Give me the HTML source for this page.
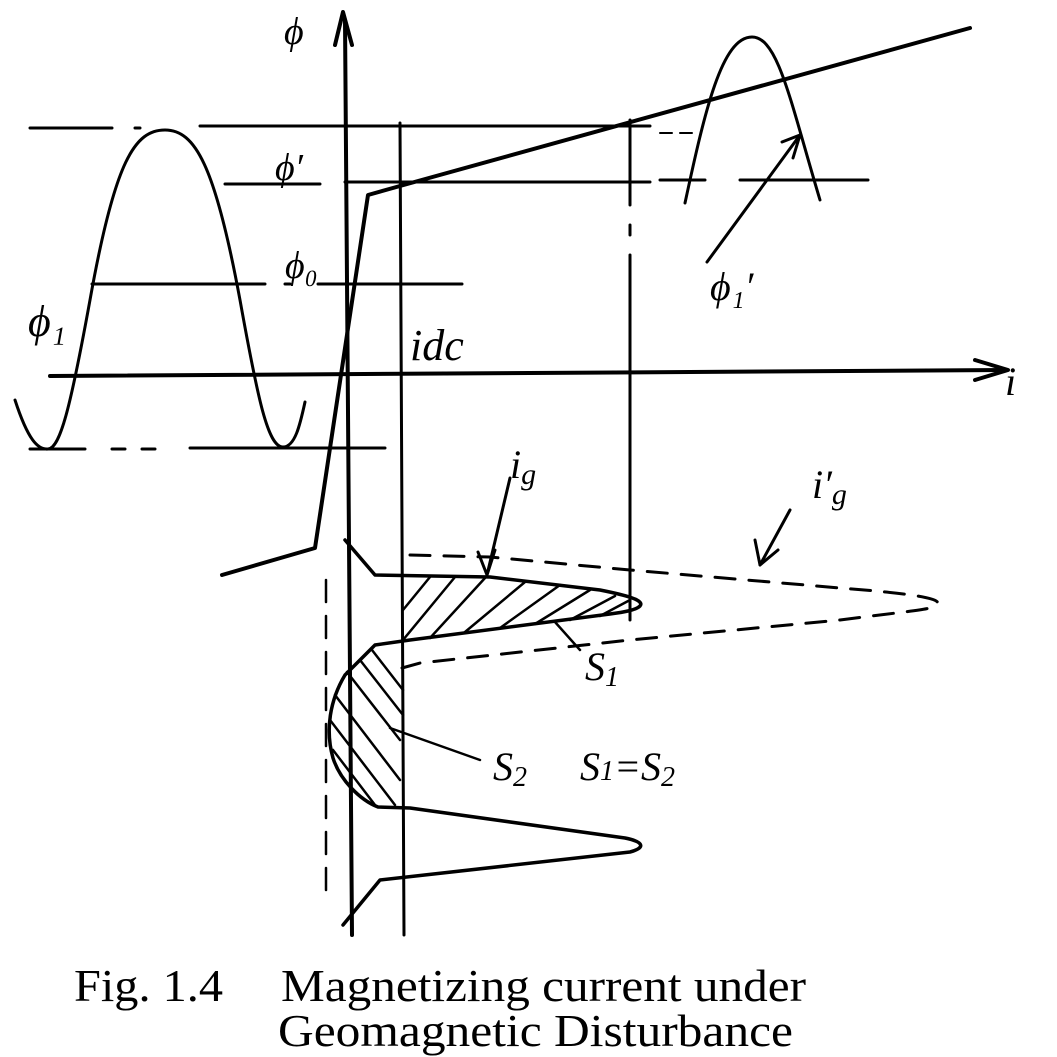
<!DOCTYPE html>
<html><head><meta charset="utf-8"><style>
html,body{margin:0;padding:0;background:#fff;}
svg{display:block;}
.h{font-family:"Liberation Serif",serif;font-style:italic;fill:#000;}
.c{font-family:"Liberation Serif",serif;fill:#000;font-size:46px;}
</style></head><body>
<svg width="1057" height="1057" viewBox="0 0 1057 1057" xmlns="http://www.w3.org/2000/svg">
<g stroke="#000" fill="none" stroke-linecap="round" stroke-linejoin="round">
<line x1="345" y1="20" x2="352" y2="935" stroke-width="4"/>
<path d="M335 45 L343 12 L352 45" stroke-width="4"/>
<line x1="50" y1="376" x2="1005" y2="370" stroke-width="4"/>
<path d="M975 360 L1008 370 L975 380" stroke-width="4"/>
<path d="M30 128 H112 M135 128 H140 M200 126 H650" stroke-width="3"/>
<path d="M225 184 H320 M312 184 H318 M345 182 H650 M660 180 H705 M740 180 H868" stroke-width="3"/>
<path d="M660 133 H700" stroke-width="2" stroke-dasharray="12 8"/>
<path d="M92 284 H265 M285 284 H290 M318 284 H462" stroke-width="3"/>
<path d="M30 449 H85 M112 449 H125 M142 449 H155 M190 448 H385" stroke-width="3"/>
<line x1="400" y1="123" x2="404" y2="935" stroke-width="3"/>
<path d="M630 120 V205 M630 225 V235 M630 255 V620" stroke-width="3"/>
<path d="M326 580 V900" stroke-width="2.5" stroke-dasharray="22 14"/>
<path d="M222 575 L315 548 L368 195 L400 186 L970 28" stroke-width="4"/>
<path d="M15 400 C28 440 38 450 48 449 C60 448 70 410 90 300 C115 160 135 130 165 130 C195 130 215 165 240 300 C258 400 268 447 283 447 C295 447 300 425 305 402" stroke-width="3"/>
<path d="M685 203 C705 110 722 37 752 37 C778 37 790 100 820 200" stroke-width="3"/>
<path d="M707 262 L800 135 M782 142 L800 135 L793 158" stroke-width="3"/>
<path d="M345 540 L375 575 L490 577 L600 590 C625 595 645 600 640 606 C636 610 625 612 610 614 L410 640 L375 645 L345 675 C330 700 325 730 333 758 C340 780 360 800 378 807 L410 808 L625 838 C645 842 645 848 630 852 L380 880 L343 925" stroke-width="3.5"/>
<path d="M410 555 L490 557 L630 570 L840 588 C930 595 945 600 935 606 C930 610 900 612 840 620 L630 640 L420 663 L402 668" stroke-width="3" stroke-dasharray="20 14"/>
<path d="M403 610 L430 577 M403 640 L455 577 M430 638 L485 578 M465 632 L525 582 M500 628 L560 585 M535 624 L590 590 M570 620 L615 596 M600 616 L630 600" stroke-width="2.5"/>
<path d="M372 650 L403 690 M360 660 L403 715 M347 672 L400 740 M335 695 L400 780 M330 720 L395 805 M333 750 L375 805" stroke-width="2.5"/>
<path d="M555 622 L580 650 M390 728 L480 760" stroke-width="2.5"/>
<path d="M510 478 L487 575 M478 552 L487 575 M495 550 L487 575" stroke-width="3"/>
<path d="M790 510 L760 565 M755 540 L760 565 M778 550 L760 565" stroke-width="3"/>
</g>
<text class="h" x="284" y="44" font-size="38">ϕ</text>
<text class="h" x="275" y="180" font-size="38">ϕ′</text>
<text class="h" x="285" y="278" font-size="38">ϕ₀</text>
<text class="h" x="28" y="336" font-size="44">ϕ₁</text>
<text class="h" x="410" y="360" font-size="44">idc</text>
<text class="h" x="710" y="300" font-size="40">ϕ₁′</text>
<text class="h" x="1005" y="395" font-size="40">i</text>
<text class="h" x="510" y="478" font-size="40">i<tspan font-size="30" dy="6">g</tspan></text>
<text class="h" x="812" y="498" font-size="40">i′<tspan font-size="30" dy="6">g</tspan></text>
<text class="h" x="585" y="680" font-size="40">S<tspan font-size="28" dy="6">1</tspan></text>
<text class="h" x="493" y="780" font-size="40">S<tspan font-size="28" dy="6">2</tspan></text>
<text class="h" x="580" y="780" font-size="40">S<tspan font-size="28">1</tspan>=S<tspan font-size="28" dy="6">2</tspan></text>
<text class="c" x="74" y="1001" textLength="149" lengthAdjust="spacingAndGlyphs">Fig. 1.4</text>
<text class="c" x="281" y="1001" textLength="525" lengthAdjust="spacingAndGlyphs">Magnetizing current under</text>
<text class="c" x="278" y="1046" textLength="515" lengthAdjust="spacingAndGlyphs">Geomagnetic Disturbance</text>
</svg>
</body></html>
